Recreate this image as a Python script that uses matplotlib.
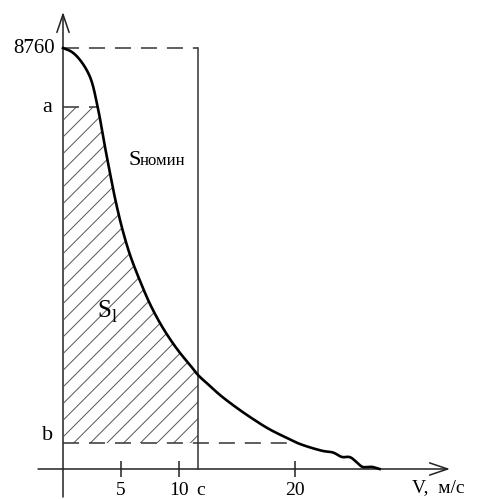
import numpy as np
import matplotlib.pyplot as plt
from matplotlib.patches import FancyArrowPatch

plt.rcParams['font.family'] = ['Liberation Serif', 'DejaVu Serif']
plt.rcParams['hatch.linewidth'] = 0.7

# кривая продолжительности скоростей ветра (скорость, м/с -> часы в году)
v = [0, 0.75, 1.47, 2.33, 2.99, 3.62, 4.05, 4.48, 5.09, 5.78, 6.64, 7.5, 8.36,
     9.22, 10.09, 10.95, 11.64, 12.67, 13.53, 15.0, 16.38, 17.76, 19.31, 20.43,
     22.41, 23.28, 24.05, 24.75, 25.8, 26.2, 26.6, 27.3]
t = [8760, 8680, 8510, 8157, 7532, 6700, 6159, 5639, 5015, 4453, 3912, 3433, 3038,
     2705, 2414, 2164, 1956, 1727, 1540, 1269, 1040, 832, 645, 520,
     375, 343, 250, 245, 45, 40, 45, 0]

t_max = 8760
a = 7530
b = 540
c = 11.65

x_ticks = [5, 10, 20]
x_tick_labels = ['5', '10', '20']

px_x = 11.6
px_y = t_max / 421


def smooth(xs, ys, n=20):
    # центростремительный сплайн Катмулла-Рома (в пиксельном масштабе)
    P = np.column_stack([np.array(xs) * px_x, np.array(ys) / px_y])
    P = np.vstack([2 * P[0] - P[1], P, 2 * P[-1] - P[-2]])
    out = []
    for i in range(1, len(P) - 2):
        p0, p1, p2, p3 = P[i - 1], P[i], P[i + 1], P[i + 2]
        t0 = 0
        t1 = t0 + np.linalg.norm(p1 - p0) ** 0.5
        t2 = t1 + np.linalg.norm(p2 - p1) ** 0.5
        t3 = t2 + np.linalg.norm(p3 - p2) ** 0.5
        for s in np.linspace(t1, t2, n, endpoint=False):
            a1 = (t1 - s) / (t1 - t0) * p0 + (s - t0) / (t1 - t0) * p1
            a2 = (t2 - s) / (t2 - t1) * p1 + (s - t1) / (t2 - t1) * p2
            a3 = (t3 - s) / (t3 - t2) * p2 + (s - t2) / (t3 - t2) * p3
            b1 = (t2 - s) / (t2 - t0) * a1 + (s - t0) / (t2 - t0) * a2
            b2 = (t3 - s) / (t3 - t1) * a2 + (s - t1) / (t3 - t1) * a3
            out.append((t2 - s) / (t2 - t1) * b1 + (s - t1) / (t2 - t1) * b2)
    out.append(P[-2])
    out = np.array(out)
    return out[:, 0] / px_x, out[:, 1] * px_y


vs, ts = smooth(v, t)

fig = plt.figure(figsize=(4.8, 5), dpi=100)
ax = fig.add_axes([0, 0, 1, 1])
ax.set_xlim(-63 / px_x, 417 / px_x)
ax.set_ylim(-31 * px_y, 469 * px_y)
ax.axis('off')

axis_col = '#222222'
dash_col = '#333333'

# оси со стрелками
for p0, p1 in [((-25 / px_x, 0), (387 / px_x, 0)), ((0, -28 * px_y), (0, 457 * px_y))]:
    ax.add_patch(FancyArrowPatch(p0, p1, arrowstyle='->,head_length=0.65,head_width=0.22',
                                 mutation_scale=20, lw=1.1, color=axis_col,
                                 shrinkA=0, shrinkB=0))

ax.plot(x_ticks, [0] * len(x_ticks), ls='none', marker='|', ms=11, mew=1.1, color=axis_col)
for xt, lab in zip(x_ticks, x_tick_labels):
    ax.text(xt, -13 * px_y, lab, ha='center', va='top', fontsize=14)
ax.text(c + 0.25, -13 * px_y, 'c', ha='center', va='top', fontsize=14)
ax.text(349 / px_x, -23 * px_y, 'V,  м/с', ha='left', va='baseline', fontsize=14)

# штриховка S_l
vm = np.maximum.accumulate(vs)
xg = np.linspace(0, c, 400)
top = np.minimum(np.interp(xg, vm, ts), a)
ax.fill_between(xg, b, top, facecolor='none', edgecolor='#555555', hatch='//', linewidth=0)

# вспомогательные линии
dash = (10.5, 6.5)
v_a = np.interp(a, t[::-1], v[::-1])
v_b = np.interp(b, t[::-1], v[::-1])
ax.plot([0, c], [t_max, t_max], color=dash_col, lw=1.1, dashes=dash)
ax.plot([0, v_a], [a, a], color=dash_col, lw=1.1, dashes=dash)
ax.plot([0, v_b], [b, b], color=dash_col, lw=1.1, dashes=dash)
ax.plot([c, c], [0, t_max], color=dash_col, lw=1.1)

ax.plot(vs, ts, color='black', lw=1.9)

ax.text(-8 / px_x, t_max, '8760', ha='right', va='center', fontsize=15)
ax.text(-16 / px_x, a, 'a', ha='center', va='center', fontsize=16)
ax.text(-15 / px_x, b + 150, 'b', ha='center', va='center', fontsize=16)

ax.text(65 / px_x, 304 * px_y, 'S', ha='left', va='baseline', fontsize=16)
ax.text(77 / px_x, 304 * px_y, 'номин', ha='left', va='baseline', fontsize=12)
ax.text(34 / px_x, 152 * px_y, 'S', ha='left', va='baseline', fontsize=18)
ax.text(49 / px_x, 147 * px_y, 'l', ha='left', va='baseline', fontsize=13)

fig.savefig('out.png', dpi=100)
